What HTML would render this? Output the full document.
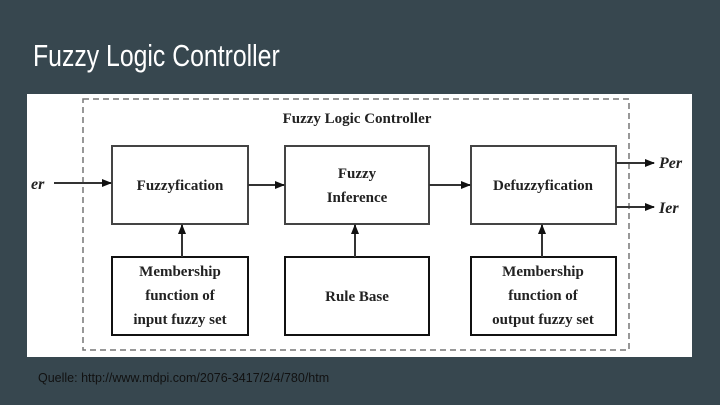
<!DOCTYPE html>
<html><head><meta charset="utf-8"><style>
html,body{margin:0;padding:0;}
body{width:720px;height:405px;background:#37474f;position:relative;overflow:hidden;font-family:"Liberation Sans",sans-serif;}
.t{position:absolute;left:33px;top:38px;color:#fff;font-size:31px;white-space:nowrap;transform:scaleX(0.8);transform-origin:left top;letter-spacing:0px;}
.c{position:absolute;left:38px;top:371px;color:#111;font-size:12.5px;white-space:nowrap;}
svg{position:absolute;left:0;top:0;}
</style></head><body>
<div class="t">Fuzzy Logic Controller</div>
<svg width="720" height="405" viewBox="0 0 720 405">
<defs><marker id="a" markerWidth="10" markerHeight="8" refX="9" refY="4" orient="auto" markerUnits="userSpaceOnUse"><path d="M0,0 L10,4 L0,8 z" fill="#111"/></marker></defs>
<rect x="27" y="94" width="665" height="263" fill="#fff"/>
<rect x="83" y="99" width="546" height="251" fill="none" stroke="#777" stroke-width="1.5" stroke-dasharray="6,4"/>
<g font-family="Liberation Serif,serif" font-weight="bold" fill="#222" text-anchor="middle" font-size="15">
<text x="357" y="123">Fuzzy Logic Controller</text>
<g stroke="#444" stroke-width="2" fill="#fff">
<rect x="112" y="146" width="136" height="78"/>
<rect x="285" y="146" width="144" height="78"/>
<rect x="471" y="146" width="145" height="78"/>
<rect x="112" y="257" width="136" height="78" stroke="#111"/>
<rect x="285" y="257" width="144" height="78" stroke="#111"/>
<rect x="471" y="257" width="145" height="78" stroke="#111"/>
</g>
<text x="180" y="190">Fuzzyfication</text>
<text x="357" y="178">Fuzzy</text>
<text x="357" y="202">Inference</text>
<text x="543" y="190">Defuzzyfication</text>
<text x="180" y="276">Membership</text>
<text x="180" y="300">function of</text>
<text x="180" y="324">input fuzzy set</text>
<text x="357" y="301">Rule Base</text>
<text x="543" y="276">Membership</text>
<text x="543" y="300">function of</text>
<text x="543" y="324">output fuzzy set</text>
<g font-style="italic" text-anchor="start" font-size="16">
<text x="31" y="189">er</text>
<text x="659" y="168">Per</text>
<text x="659" y="213">Ier</text>
</g>
</g>
<g stroke="#333" stroke-width="2" marker-end="url(#a)">
<line x1="54" y1="183" x2="111" y2="183"/>
<line x1="248" y1="185" x2="284" y2="185"/>
<line x1="429" y1="185" x2="470" y2="185"/>
<line x1="616" y1="163" x2="654" y2="163"/>
<line x1="616" y1="207" x2="654" y2="207"/>
<line x1="182" y1="257" x2="182" y2="225"/>
<line x1="355" y1="257" x2="355" y2="225"/>
<line x1="542" y1="257" x2="542" y2="225"/>
</g>
</svg>
<div class="c">Quelle: http://www.mdpi.com/2076-3417/2/4/780/htm</div>
</body></html>
